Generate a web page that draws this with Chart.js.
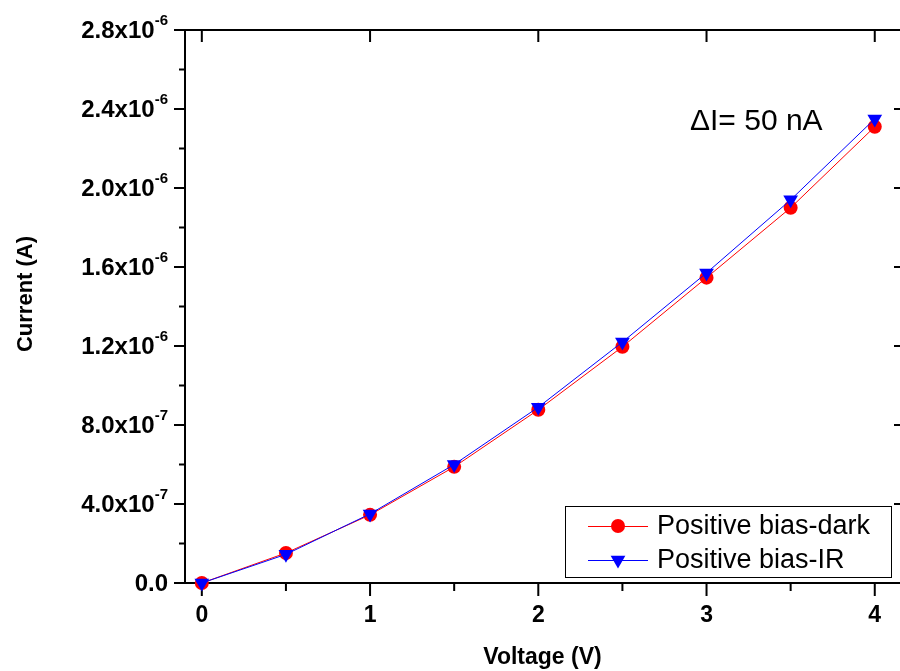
<!DOCTYPE html>
<html>
<head>
<meta charset="utf-8">
<script src="https://cdn.jsdelivr.net/npm/chart.js@4.4.0/dist/chart.umd.min.js"></script>
<style>
  html, body { margin: 0; padding: 0; background: #fff; }
</style>
</head>
<body>
<canvas id="ivChart" width="900" height="671"></canvas>
<script>
// values
const voltage = [0, 0.5, 1, 1.5, 2, 2.5, 3, 3.5, 4];
const currentDark = [0, 1.52e-7, 3.45e-7, 5.88e-7, 8.77e-7, 1.196e-6, 1.546e-6, 1.90e-6, 2.31e-6];
const currentIR = [0, 1.45e-7, 3.50e-7, 6.00e-7, 8.90e-7, 1.22e-6, 1.57e-6, 1.94e-6, 2.35e-6];

const xTicks = [0, 1, 2, 3, 4];
const xMinorTicks = [0.5, 1.5, 2.5, 3.5];
const yTicks = [0, 4e-7, 8e-7, 1.2e-6, 1.6e-6, 2.0e-6, 2.4e-6, 2.8e-6];
const yTickBase = ['0.0', '4.0x10', '8.0x10', '1.2x10', '1.6x10', '2.0x10', '2.4x10', '2.8x10'];
const yTickExp = ['', '-7', '-7', '-6', '-6', '-6', '-6', '-6'];
const yMinorTicks = [2e-7, 6e-7, 1.0e-6, 1.4e-6, 1.8e-6, 2.2e-6, 2.6e-6];

const FONT = '"Liberation Sans", Arial, sans-serif';

// axis box, tick marks, y tick labels with superscripts
const framePlugin = {
  id: 'frame',
  beforeDatasetsDraw(chart) {
    const { ctx, chartArea: a, scales: { x, y } } = chart;
    const rightAxis = a.right + 1;
    ctx.save();
    ctx.strokeStyle = '#000';
    ctx.lineWidth = 2;
    ctx.beginPath();
    ctx.moveTo(a.left, a.top); ctx.lineTo(rightAxis, a.top);
    ctx.moveTo(a.left, a.top - 1); ctx.lineTo(a.left, a.bottom + 1);
    ctx.moveTo(a.left - 1, a.bottom); ctx.lineTo(rightAxis, a.bottom);
    ctx.moveTo(rightAxis, a.top); ctx.lineTo(rightAxis, a.bottom);
    // left ticks (outward)
    yTicks.forEach(v => { const p = y.getPixelForValue(v); ctx.moveTo(a.left - 11, p); ctx.lineTo(a.left, p); });
    yMinorTicks.forEach(v => { const p = y.getPixelForValue(v); ctx.moveTo(a.left - 6, p); ctx.lineTo(a.left, p); });
    // right ticks (inward)
    yTicks.forEach(v => { const p = y.getPixelForValue(v); ctx.moveTo(rightAxis - 7, p); ctx.lineTo(rightAxis, p); });
    // bottom ticks (outward)
    xTicks.forEach(v => { const p = x.getPixelForValue(v); ctx.moveTo(p, a.bottom); ctx.lineTo(p, a.bottom + 13); });
    xMinorTicks.forEach(v => { const p = x.getPixelForValue(v); ctx.moveTo(p, a.bottom); ctx.lineTo(p, a.bottom + 8); });
    // top ticks (inward)
    xTicks.forEach(v => { const p = x.getPixelForValue(v); ctx.moveTo(p, a.top); ctx.lineTo(p, a.top + 12); });
    ctx.stroke();

    // y tick labels
    ctx.fillStyle = '#000';
    ctx.textBaseline = 'middle';
    ctx.textAlign = 'right';
    yTicks.forEach((v, i) => {
      const p = y.getPixelForValue(v);
      const right = a.left - 17;
      ctx.font = 'bold 15px ' + FONT;
      const ew = yTickExp[i] ? ctx.measureText(yTickExp[i]).width : 0;
      if (yTickExp[i]) ctx.fillText(yTickExp[i], right, p - 9);
      ctx.font = 'bold 24px ' + FONT;
      ctx.fillText(yTickBase[i], right - ew, p + 1);
    });

    // y axis title
    ctx.save();
    ctx.translate(26, 294);
    ctx.rotate(-Math.PI / 2);
    ctx.textAlign = 'center';
    ctx.font = 'bold 22px ' + FONT;
    ctx.fillText('Current (A)', 0, 0);
    ctx.restore();
    ctx.restore();
  },
  afterDraw(chart) {
    const { ctx } = chart;
    ctx.save();
    // annotation
    ctx.fillStyle = '#000';
    ctx.textBaseline = 'middle';
    ctx.textAlign = 'left';
    ctx.font = '30px ' + FONT;
    ctx.fillText('\u0394I= 50 nA', 690, 122);

    // legend inside the plot, lower right
    const bx = 565, by = 506, bw = 326, bh = 71;
    ctx.fillStyle = '#fff';
    ctx.fillRect(bx, by, bw, bh);
    ctx.strokeStyle = '#000';
    ctx.lineWidth = 1;
    ctx.strokeRect(bx + 0.5, by + 0.5, bw, bh);
    chart.data.datasets.slice().sort((d1, d2) => d2.order - d1.order).forEach((ds, i) => {
      const cy = by + 20 + i * 34;
      const lx = bx + 23;
      ctx.strokeStyle = ds.borderColor;
      ctx.beginPath();
      ctx.moveTo(lx, cy + 0.5); ctx.lineTo(lx + 60, cy + 0.5);
      ctx.stroke();
      ctx.fillStyle = ds.pointBackgroundColor;
      const mx = lx + 30;
      ctx.beginPath();
      if (ds.pointStyle === 'circle') {
        ctx.arc(mx, cy, ds.pointRadius, 0, Math.PI * 2);
      } else {
        const r = ds.pointRadius;
        ctx.moveTo(mx - r * 0.866, cy - r * 0.5);
        ctx.lineTo(mx + r * 0.866, cy - r * 0.5);
        ctx.lineTo(mx, cy + r);
        ctx.closePath();
      }
      ctx.fill();
      ctx.fillStyle = '#000';
      ctx.font = '27px ' + FONT;
      ctx.fillText(ds.label, lx + 69, cy + 1);
    });
    ctx.restore();
  }
};

new Chart(document.getElementById('ivChart'), {
  type: 'line',
  data: {
    datasets: [
      {
        label: 'Positive bias-dark',
        data: voltage.map((v, i) => ({ x: v, y: currentDark[i] })),
        borderColor: '#ff0000',
        borderWidth: 1,
        pointStyle: 'circle',
        pointRadius: 7,
        pointBackgroundColor: '#ff0000',
        pointBorderWidth: 0,
        clip: false,
        order: 1
      },
      {
        label: 'Positive bias-IR',
        data: voltage.map((v, i) => ({ x: v, y: currentIR[i] })),
        borderColor: '#0000ff',
        borderWidth: 1,
        pointStyle: 'triangle',
        pointRotation: 180,
        pointRadius: 8.5,
        pointBackgroundColor: '#0000ff',
        pointBorderWidth: 0,
        clip: false,
        order: 0
      }
    ]
  },
  options: {
    responsive: false,
    animation: false,
    devicePixelRatio: 1,
    layout: { autoPadding: false, padding: { top: 30, right: 0, left: 0, bottom: 0 } },
    plugins: { legend: { display: false }, tooltip: { enabled: false } },
    elements: { line: { tension: 0 } },
    scales: {
      x: {
        type: 'linear',
        min: -0.1,
        max: 4.15,
        afterBuildTicks: s => { s.ticks = xTicks.map(v => ({ value: v })); },
        afterFit: s => { s.height = 88; s.paddingRight = 0; s.paddingLeft = 0; },
        grid: { display: false, drawTicks: false },
        border: { display: false },
        ticks: { color: '#000', padding: 19, font: { family: FONT, size: 23, weight: 'bold' } },
        title: {
          display: true,
          text: 'Voltage (V)',
          color: '#000',
          padding: { top: 0, bottom: 0 },
          font: { family: FONT, size: 23, weight: 'bold', lineHeight: 1.2 }
        }
      },
      y: {
        type: 'linear',
        min: 0,
        max: 2.8e-6,
        afterFit: s => { s.width = 185; },
        grid: { display: false, drawTicks: false },
        border: { display: false },
        ticks: { display: false },
        title: { display: false }
      }
    }
  },
  plugins: [framePlugin]
});
</script>
</body>
</html>
